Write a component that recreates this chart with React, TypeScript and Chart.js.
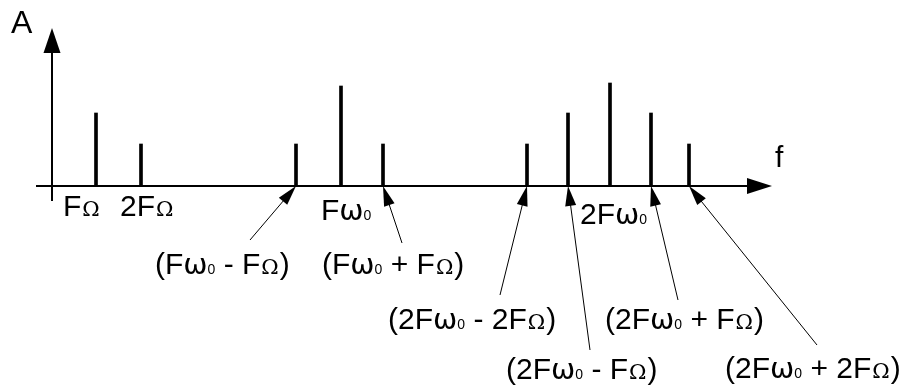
import React, { useEffect, useRef } from "react";
import { Chart, registerables } from "chart.js";

Chart.register(...registerables);

// ---- data (frequency in relative units from the origin, amplitude in relative units) ----
const lineNames = [
  "FΩ",
  "2FΩ",
  "(Fω₀ - FΩ)",
  "Fω₀",
  "(Fω₀ + FΩ)",
  "(2Fω₀ - 2FΩ)",
  "(2Fω₀ - FΩ)",
  "2Fω₀",
  "(2Fω₀ + FΩ)",
  "(2Fω₀ + 2FΩ)",
];
const frequencies = [44, 89, 244, 289, 331, 475, 516, 558, 599, 637];
const amplitudes = [73, 42, 42, 100, 42, 42, 73, 103, 73, 42];
const axisFMax = 720;
const axisAMax = 158;
const axisLabelY = "A";
const axisLabelX = "f";

// ---- layout of labels (pixel offsets from the foot of each spectral line) ----
const labelLayout = [
  { dx: -33, dy: 30, arrow: false, tx: 0, ty: 0 },
  { dx: -21, dy: 30, arrow: false, tx: 0, ty: 0 },
  { dx: -141, dy: 88, arrow: true, tx: -46, ty: 54 },
  { dx: -20, dy: 34, arrow: false, tx: 0, ty: 0 },
  { dx: -61, dy: 88, arrow: true, tx: 19, ty: 57 },
  { dx: -139, dy: 143, arrow: true, tx: -27, ty: 109 },
  { dx: -62, dy: 193, arrow: true, tx: 22, ty: 164 },
  { dx: -30, dy: 38, arrow: false, tx: 0, ty: 0 },
  { dx: -46, dy: 143, arrow: true, tx: 27, ty: 114 },
  { dx: 36, dy: 192, arrow: true, tx: 128, ty: 159 },
];

const FONT_MAIN = '30px "Liberation Sans", Arial, sans-serif';
const FONT_OMEGA = '29px "DejaVu Sans", sans-serif';
const FONT_BIGOMEGA = '21px "DejaVu Serif", serif';
const FONT_SUB = '14px "Liberation Sans", Arial, sans-serif';

function drawRich(ctx: CanvasRenderingContext2D, text: string, x: number, y: number) {
  let cx = x;
  for (const ch of Array.from(text)) {
    let font = FONT_MAIN;
    let s = ch;
    let pre = 0;
    let post = 0;
    if (ch === "Ω") {
      font = FONT_BIGOMEGA;
      pre = 1;
      post = 1;
    } else if (ch === "ω") {
      font = FONT_OMEGA;
    } else if (ch === "₀") {
      font = FONT_SUB;
      s = "0";
    }
    ctx.font = font;
    cx += pre;
    ctx.fillText(s, cx, y);
    cx += ctx.measureText(s).width + post;
  }
}

function arrowHead(
  ctx: CanvasRenderingContext2D,
  fromX: number,
  fromY: number,
  tipX: number,
  tipY: number,
  len: number,
  half: number
) {
  const ang = Math.atan2(tipY - fromY, tipX - fromX);
  const bx = tipX - len * Math.cos(ang);
  const by = tipY - len * Math.sin(ang);
  const px = -Math.sin(ang) * half;
  const py = Math.cos(ang) * half;
  ctx.beginPath();
  ctx.moveTo(tipX, tipY);
  ctx.lineTo(bx + px, by + py);
  ctx.lineTo(bx - px, by - py);
  ctx.closePath();
  ctx.fill();
}

const spectrumPlugin = {
  id: "spectrumDecor",
  afterDatasetsDraw(chart: any) {
    const ctx: CanvasRenderingContext2D = chart.ctx;
    const xs = chart.scales.x;
    const ys = chart.scales.y;
    const x0 = xs.getPixelForValue(0);
    const y0 = ys.getPixelForValue(0);
    ctx.save();
    ctx.fillStyle = "#000";
    ctx.strokeStyle = "#000";

    // horizontal axis
    const xTip = xs.getPixelForValue(axisFMax);
    ctx.lineWidth = 2;
    ctx.beginPath();
    ctx.moveTo(xs.getPixelForValue(-16), y0);
    ctx.lineTo(xTip - 20, y0);
    ctx.stroke();
    arrowHead(ctx, x0, y0, xTip, y0, 25, 8);

    // vertical axis
    const yTip = ys.getPixelForValue(axisAMax);
    ctx.beginPath();
    ctx.moveTo(x0, ys.getPixelForValue(-15));
    ctx.lineTo(x0, yTip + 20);
    ctx.stroke();
    arrowHead(ctx, x0, y0, x0, yTip, 25, 8.5);

    // axis names
    ctx.textBaseline = "alphabetic";
    ctx.textAlign = "left";
    ctx.font = '32px "Liberation Sans", Arial, sans-serif';
    ctx.fillText(axisLabelY, x0 - 41, yTip + 5);
    ctx.font = '30px "Liberation Sans", Arial, sans-serif';
    ctx.fillText(axisLabelX, xTip + 3, y0 - 19);

    // labels and arrows
    frequencies.forEach((f, i) => {
      const lay = labelLayout[i];
      const px = xs.getPixelForValue(f);
      const py = y0;
      if (lay.arrow) {
        const tailX = px + lay.tx;
        const tailY = py + lay.ty;
        const ang = Math.atan2(py - tailY, px - tailX);
        ctx.lineWidth = 1;
        ctx.beginPath();
        ctx.moveTo(tailX, tailY);
        ctx.lineTo(px - 15 * Math.cos(ang), py - 15 * Math.sin(ang));
        ctx.stroke();
        arrowHead(ctx, tailX, tailY, px, py, 20, 5.5);
      }
      drawRich(ctx, lineNames[i], px + lay.dx, py + lay.dy);
    });
    ctx.restore();
  },
};

export default function App() {
  const canvasRef = useRef<HTMLCanvasElement | null>(null);

  useEffect(() => {
    document.body.style.margin = "0";
    const canvas = canvasRef.current;
    if (!canvas) return;
    const chart = new Chart(canvas, {
      type: "bar",
      data: {
        datasets: [
          {
            data: frequencies.map((f, i) => ({ x: f, y: amplitudes[i] })),
            backgroundColor: "#000",
            borderWidth: 0,
            barThickness: 3,
          },
        ],
      },
      options: {
        animation: false,
        responsive: true,
        maintainAspectRatio: false,
        layout: { padding: { left: 52, top: 28, right: 139, bottom: 203 } },
        plugins: { legend: { display: false }, tooltip: { enabled: false } },
        scales: {
          x: { type: "linear", min: 0, max: axisFMax, display: false, offset: false },
          y: { type: "linear", min: 0, max: axisAMax, display: false },
        },
      },
      plugins: [spectrumPlugin],
    });
    return () => chart.destroy();
  }, []);

  return (
    <div style={{ position: "fixed", left: 0, top: 0, width: 911, height: 389, background: "#fff" }}>
      <canvas ref={canvasRef} />
    </div>
  );
}
